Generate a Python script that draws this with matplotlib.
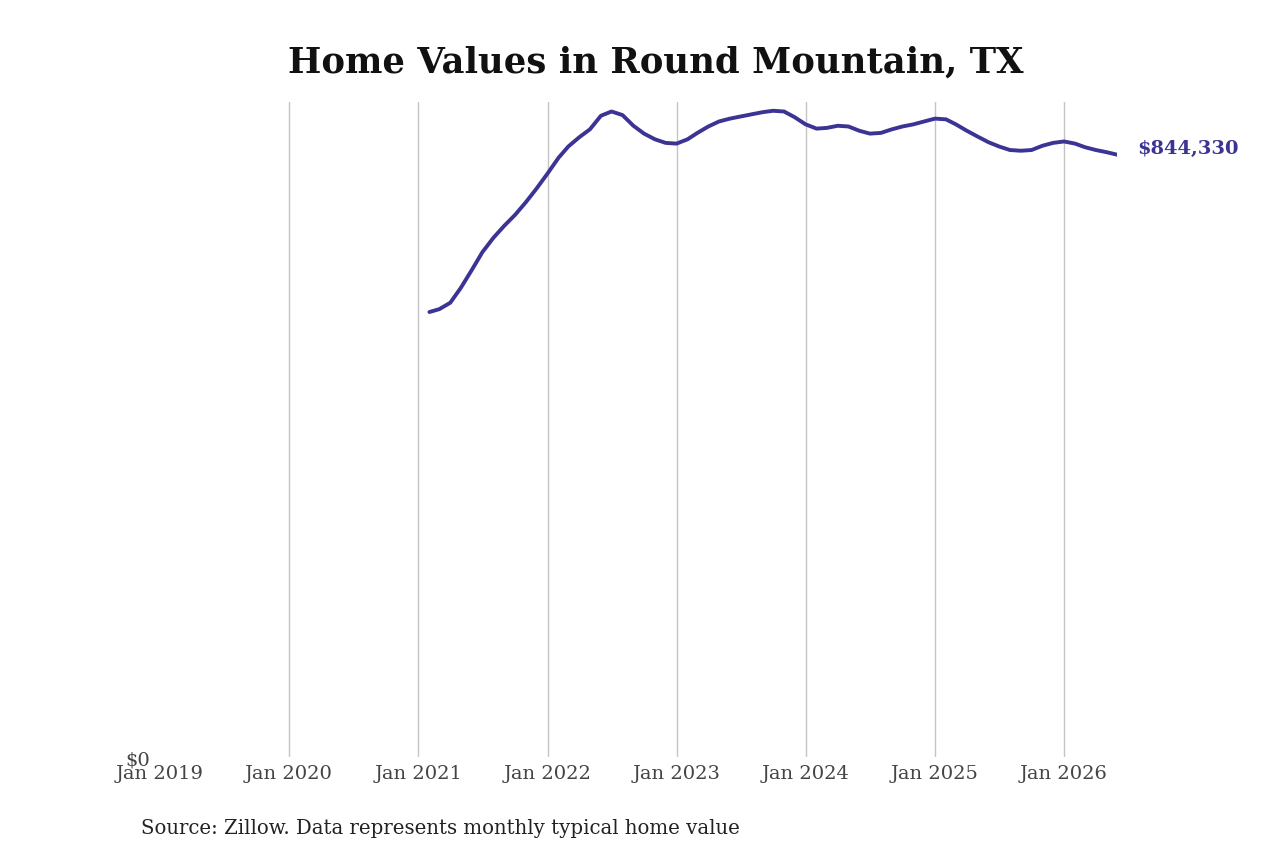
import numpy as np
import pandas as pd
import matplotlib
matplotlib.use("Agg")
import matplotlib.pyplot as plt
import matplotlib.dates as mdates
from matplotlib.ticker import FuncFormatter

# monthly typical home value, Feb 2021 - Jun 2026 (thousands of $)
months = pd.date_range("2021-02-01", "2026-06-01", freq="MS")
values_k = [
    624, 628, 637, 658, 683, 708, 728, 745, 760, 778, 797,
    818, 840, 856, 869, 880, 899, 905, 900, 885, 874, 866, 861,
    860, 866, 875, 884, 891, 895, 898, 901, 904, 906, 905, 897,
    887, 881, 882, 885, 884, 878, 874, 875, 880, 884, 887, 891,
    895, 894, 887, 878, 870, 862, 856, 851, 850, 851, 857, 861,
    863, 860, 855, 851, 848, 844.33,
]
values = np.array(values_k) * 1000
last_label = "$844,330"
title = "Home Values in Round Mountain, TX"
source = "Source: Zillow. Data represents monthly typical home value"

line_color = "#3b3494"

plt.rcParams["font.family"] = "DejaVu Serif"

fig = plt.figure(figsize=(12.8, 8.53), dpi=100)
ax = fig.add_axes([0.125, 0.111, 0.748, 0.768])

ax.plot(months, values, color=line_color, lw=2.8, solid_capstyle="round")

ax.set_xlim(pd.Timestamp("2019-01-01"), months[-1])
ax.set_ylim(0, 918000)

ax.xaxis.set_major_locator(mdates.YearLocator())
ax.xaxis.set_major_formatter(mdates.DateFormatter("Jan %Y"))
ax.set_yticks([0])
ax.yaxis.set_major_formatter(FuncFormatter(lambda v, p: f"${v:,.0f}"))

ax.grid(axis="x", color="#c4c4c4", lw=1)
ax.set_axisbelow(True)
for s in ax.spines.values():
    s.set_visible(False)
ax.tick_params(axis="both", length=0, labelsize=14, labelcolor="#444444")
ax.tick_params(axis="x", pad=5)
ax.tick_params(axis="y", pad=7)
fig.canvas.draw()
ax.xaxis.get_gridlines()[0].set_visible(False)

ax.annotate(last_label, xy=(months[-1], values[-1]), xytext=(14, 5),
            textcoords="offset points", color=line_color, fontsize=14,
            fontweight="bold", va="center", ha="left", annotation_clip=False)

fig.text(0.5125, 0.927, title, ha="center", va="center", fontsize=25.5,
         fontweight="bold", color="#111111")
fig.text(0.110, 0.029, source, ha="left", va="center", fontsize=14.2,
         color="#222222")

fig.savefig("out.png", dpi=100, facecolor="white")
